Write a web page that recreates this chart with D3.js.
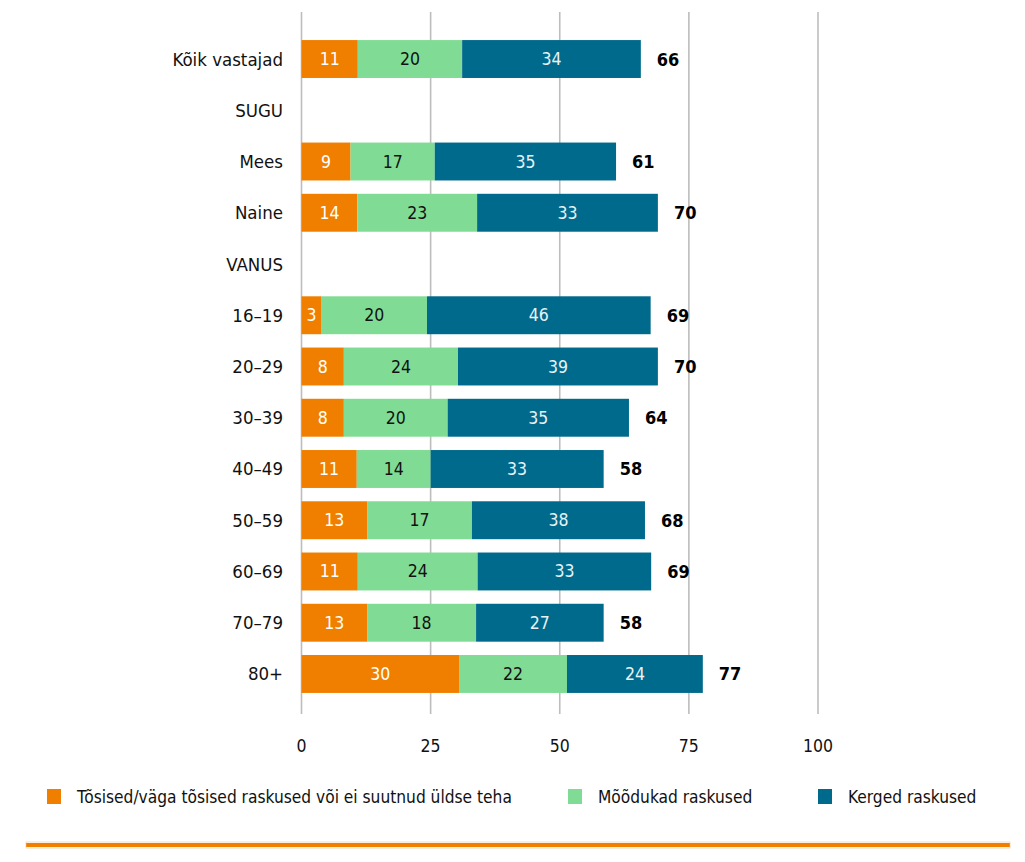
<!DOCTYPE html>
<html>
<head>
<meta charset="utf-8">
<script src="https://cdn.jsdelivr.net/npm/d3@7"></script>
<style>
  html, body { margin: 0; padding: 0; background: #fff; }
  svg { display: block; }
  text { font-family: "Liberation Sans Narrow", "Arial Narrow", "DejaVu Sans Condensed", "Roboto Condensed", sans-serif; }
</style>
</head>
<body>
<svg id="chart" width="1025" height="862"></svg>
<script>
// Categories (SUGU and VANUS are group headings without bars)
const categories = ["Kõik vastajad", "SUGU", "Mees", "Naine", "VANUS", "16–19", "20–29", "30–39", "40–49", "50–59", "60–69", "70–79", "80+"];
const seriesNames = ["Tõsised/väga tõsised raskused või ei suutnud üldse teha", "Mõõdukad raskused", "Kerged raskused"];
// Bar lengths as drawn
const severeValues   = [10.9, null, 9.5, 10.8, null, 3.9, 8.2, 8.2, 10.7, 12.7, 10.9, 12.7, 30.5];
const moderateValues = [20.2, null, 16.3, 23.2, null, 20.4, 22.1, 20.1, 14.3, 20.3, 23.2, 21.1, 20.9];
const mildValues     = [34.6, null, 35.1, 35.0, null, 43.3, 38.7, 35.1, 33.5, 33.5, 33.6, 24.7, 26.3];
// Printed labels
const severeLabels   = [11, null, 9, 14, null, 3, 8, 8, 11, 13, 11, 13, 30];
const moderateLabels = [20, null, 17, 23, null, 20, 24, 20, 14, 17, 24, 18, 22];
const mildLabels     = [34, null, 35, 33, null, 46, 39, 35, 33, 38, 33, 27, 24];
const totalLabels    = [66, null, 61, 70, null, 69, 70, 64, 58, 68, 69, 58, 77];
const xTicks = [0, 25, 50, 75, 100];

const colors = ["#F07F00", "#80DC94", "#006A8C"];
const textColors = ["#ffffff", "#111111", "#e8f2f6"];

const svg = d3.select("#chart");

const x = d3.scaleLinear().domain([0, 100]).range([301.5, 818]);
const y = d3.scaleBand().domain(categories).range([33.4, 699.6]).padding(0);
const barH = y.bandwidth() * 0.74;

// Gridlines
svg.append("g").selectAll("line").data(xTicks).join("line")
  .attr("x1", d => x(d)).attr("x2", d => x(d))
  .attr("y1", 12).attr("y2", 714)
  .attr("stroke", "#bdbdbd").attr("stroke-width", 1.6);

// Tick labels
svg.append("g").selectAll("text").data(xTicks).join("text")
  .attr("x", d => x(d)).attr("y", 746)
  .attr("text-anchor", "middle").attr("dominant-baseline", "central")
  .attr("font-size", 17.5).attr("fill", "#111")
  .text(d => d);

// Category labels
svg.append("g").selectAll("text").data(categories).join("text")
  .attr("x", 283).attr("y", d => y(d) + y.bandwidth() / 2)
  .attr("text-anchor", "end").attr("dominant-baseline", "central")
  .attr("font-size", 18.5).attr("fill", "#111")
  .text(d => d);

// Build stacked rows
const rows = categories.map((c, i) => ({
  cat: c,
  vals: [severeValues[i], moderateValues[i], mildValues[i]],
  labels: [severeLabels[i], moderateLabels[i], mildLabels[i]],
  total: totalLabels[i]
})).filter(r => r.vals[0] != null);

const segs = [];
rows.forEach(r => {
  let acc = 0;
  r.vals.forEach((v, k) => {
    segs.push({cat: r.cat, k, x0: acc, x1: acc + v, label: r.labels[k]});
    acc += v;
  });
  r.end = acc;
});

const gBars = svg.append("g");
gBars.selectAll("rect").data(segs).join("rect")
  .attr("x", d => x(d.x0))
  .attr("width", d => x(d.x1) - x(d.x0))
  .attr("y", d => y(d.cat) + (y.bandwidth() - barH) / 2)
  .attr("height", barH)
  .attr("fill", d => colors[d.k]);

gBars.selectAll("text").data(segs).join("text")
  .attr("x", d => (x(d.x0) + x(d.x1)) / 2)
  .attr("y", d => y(d.cat) + y.bandwidth() / 2)
  .attr("text-anchor", "middle").attr("dominant-baseline", "central")
  .attr("font-size", 17.5)
  .attr("fill", d => textColors[d.k])
  .text(d => d.label);

// Totals
svg.append("g").selectAll("text").data(rows).join("text")
  .attr("x", d => x(d.end) + 16)
  .attr("y", d => y(d.cat) + y.bandwidth() / 2)
  .attr("text-anchor", "start").attr("dominant-baseline", "central")
  .attr("font-size", 18).attr("font-weight", "bold").attr("fill", "#000")
  .text(d => d.total);

// Legend
const legendX = [47, 568, 818];
const lg = svg.append("g").selectAll("g").data(seriesNames).join("g")
  .attr("transform", (d, i) => `translate(${legendX[i]},789)`);
lg.append("rect").attr("width", 14).attr("height", 15).attr("fill", (d, i) => colors[i]);
lg.append("text").attr("x", 30).attr("y", 8)
  .attr("dominant-baseline", "central").attr("font-size", 17.2).attr("fill", "#111")
  .text(d => d);

// Bottom orange rule
svg.append("rect").attr("x", 26).attr("y", 843).attr("width", 984).attr("height", 4)
  .attr("fill", "#F07F00");
svg.append("rect").attr("x", 26).attr("y", 842).attr("width", 984).attr("height", 6)
  .attr("fill", "none").attr("stroke", "#F9C48A").attr("stroke-width", 0.6);
</script>
</body>
</html>
